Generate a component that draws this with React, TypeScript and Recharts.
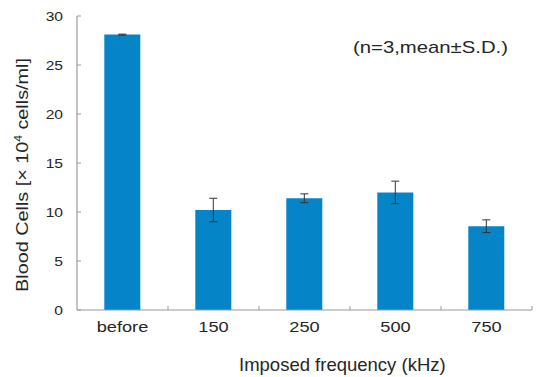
import React from 'react';
import { BarChart, Bar, XAxis, YAxis, ErrorBar } from 'recharts';

const categories = ['before', '150', '250', '500', '750'];
const means = [28.1, 10.2, 11.4, 12.0, 8.55];
const sds = [0.05, 1.2, 0.45, 1.15, 0.65];
const yTicks = [0, 5, 10, 15, 20, 25, 30];
const xTitle = 'Imposed frequency (kHz)';
const note = '(n=3,mean\u00B1S.D.)';

const data = categories.map((name, i) => ({ name, mean: means[i], sd: sds[i] }));

const FONT = '"Liberation Sans", Arial, sans-serif';
const TEXT = '#262626';
const AXIS = '#9a9a9a';

const YTick = (props: any) => {
  const { x, y, payload } = props;
  return (
    <text
      transform={`translate(${x},${y + 4.5}) scale(1.2,1)`}
      textAnchor="end"
      fontFamily={FONT}
      fontSize={13}
      fill={TEXT}
    >
      {payload.value}
    </text>
  );
};

const XTick = (props: any) => {
  const { x, y, payload, width, visibleTicksCount } = props;
  const step = Number(width) / Number(visibleTicksCount || categories.length);
  const edge = x + step / 2;
  return (
    <g>
      {Number.isFinite(edge) ? (
        <line x1={edge} x2={edge} y1={y} y2={y - 4} stroke={AXIS} strokeWidth={1} />
      ) : null}
      <text
        transform={`translate(${x},${y + 21.5}) scale(1.3,1)`}
        textAnchor="middle"
        fontFamily={FONT}
        fontSize={14}
        fill={TEXT}
      >
        {payload.value}
      </text>
    </g>
  );
};

export default function App() {
  return (
    <div style={{ position: 'absolute', left: 0, top: 0, width: 537, height: 377, background: '#fff' }}>
      <BarChart
        width={537}
        height={377}
        data={data}
        margin={{ top: 16, right: 5, bottom: 0, left: 0 }}
        barCategoryGap="30%"
      >
        <XAxis
          dataKey="name"
          interval={0}
          tickLine={false}
          tickSize={0}
          tickMargin={0}
          height={67}
          axisLine={{ stroke: AXIS, strokeWidth: 1.2 }}
          tick={<XTick />}
        />
        <YAxis
          width={77}
          domain={[0, 30]}
          ticks={yTicks}
          interval={0}
          tickSize={-4}
          tickMargin={18}
          axisLine={{ stroke: AXIS, strokeWidth: 1.2 }}
          tickLine={{ stroke: AXIS }}
          tick={<YTick />}
        />
        <Bar dataKey="mean" fill="#0684C8" isAnimationActive={false}>
          <ErrorBar dataKey="sd" width={4} stroke="#333" strokeWidth={1} direction="y" />
        </Bar>
      </BarChart>
      <svg
        width={537}
        height={377}
        style={{ position: 'absolute', left: 0, top: 0, pointerEvents: 'none' }}
      >
        <text
          transform="translate(353,52.7) scale(1.27,1)"
          fontFamily={FONT}
          fontSize={16}
          fill={TEXT}
        >
          {note}
        </text>
        <text x={239} y={370.7} fontFamily={FONT} fontSize={18.5} fill={TEXT}>
          {xTitle}
        </text>
        <text
          transform="translate(28,175) rotate(-90) scale(1.2,1)"
          textAnchor="middle"
          fontFamily={FONT}
          fontSize={16.5}
          fill={TEXT}
        >
          Blood Cells [× 10
          <tspan dy={-6} fontSize={10}>4</tspan>
          <tspan dy={6}> cells/ml]</tspan>
        </text>
      </svg>
    </div>
  );
}
